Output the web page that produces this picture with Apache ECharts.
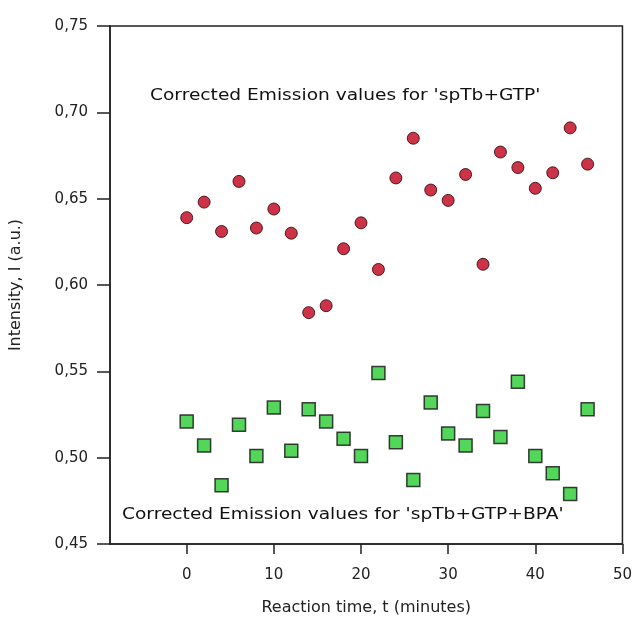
<!DOCTYPE html>
<html>
<head>
<meta charset="utf-8">
<script src="https://cdn.jsdelivr.net/npm/echarts@6/dist/echarts.min.js"></script>
<style>
  html, body { margin: 0; padding: 0; background: #fff; }
  #chart { width: 635px; height: 621px; }
</style>
</head>
<body>
<div id="chart"></div>
<script>
// reaction time (minutes)
var times = [0, 2, 4, 6, 8, 10, 12, 14, 16, 18, 20, 22, 24, 26, 28, 30, 32, 34, 36, 38, 40, 42, 44, 46];
// spTb+GTP
var gtpValues = [0.639, 0.648, 0.631, 0.660, 0.633, 0.644, 0.630, 0.584, 0.588, 0.621, 0.636, 0.609,
                 0.662, 0.685, 0.655, 0.649, 0.664, 0.612, 0.677, 0.668, 0.656, 0.665, 0.691, 0.670];
// spTb+GTP+BPA
var bpaValues = [0.521, 0.507, 0.484, 0.519, 0.501, 0.529, 0.504, 0.528, 0.521, 0.511, 0.501, 0.549,
                 0.509, 0.487, 0.532, 0.514, 0.507, 0.527, 0.512, 0.544, 0.501, 0.491, 0.479, 0.528];
var xTicks = [0, 10, 20, 30, 40, 50];

var font = 'DejaVu Sans';
var ink = '#222';

function pairs(xs, ys) {
    return xs.map(function (x, i) { return [x, ys[i]]; });
}

var chart = echarts.init(document.getElementById('chart'));
chart.setOption({
    animation: false,
    backgroundColor: '#fff',
    grid: {
        left: 108, right: 11, top: 26, bottom: 77,
        show: true, borderColor: ink, borderWidth: 1.5
    },
    xAxis: {
        type: 'value',
        min: -8.8, max: 50,
        name: 'Reaction time, t (minutes)',
        nameLocation: 'middle',
        nameGap: 56,
        nameTextStyle: { fontFamily: font, fontSize: 16, color: ink },
        splitLine: { show: false },
        axisLine: { onZero: false, lineStyle: { color: ink, width: 1.5 } },
        axisTick: { customValues: xTicks, length: 10, lineStyle: { color: ink, width: 1.5 } },
        axisLabel: { customValues: xTicks, margin: 24, fontFamily: font, fontSize: 15, color: ink }
    },
    yAxis: {
        type: 'value',
        min: 0.45, max: 0.75, interval: 0.05,
        name: 'Intensity, I (a.u.)',
        nameLocation: 'middle',
        nameGap: 86,
        nameTextStyle: { fontFamily: font, fontSize: 16, color: ink },
        splitLine: { show: false },
        axisLine: { show: true, onZero: false, lineStyle: { color: ink, width: 1.5 } },
        axisTick: { show: true, length: 13, lineStyle: { color: ink, width: 1.5 } },
        axisLabel: {
            margin: 22, fontFamily: font, fontSize: 15, color: ink,
            formatter: function (v) { return v.toFixed(2).replace('.', ','); }
        }
    },
    graphic: [
        {
            type: 'text', x: 150, y: 89, scaleX: 1.24,
            style: { text: "Corrected Emission values for 'spTb+GTP'", font: '15px ' + font, fill: '#111' }
        },
        {
            type: 'text', x: 122, y: 508, scaleX: 1.24,
            style: { text: "Corrected Emission values for 'spTb+GTP+BPA'", font: '15px ' + font, fill: '#111' }
        }
    ],
    series: [
        {
            name: 'spTb+GTP',
            type: 'scatter',
            data: pairs(times, gtpValues),
            symbol: 'circle',
            symbolSize: 12,
            itemStyle: { color: '#c0001a', borderColor: '#2a0000', borderWidth: 1 }
        },
        {
            name: 'spTb+GTP+BPA',
            type: 'scatter',
            data: pairs(times, bpaValues),
            symbol: 'rect',
            symbolSize: 13,
            itemStyle: { color: '#28cc30', borderColor: '#111', borderWidth: 1.5 }
        }
    ]
});
</script>
</body>
</html>
